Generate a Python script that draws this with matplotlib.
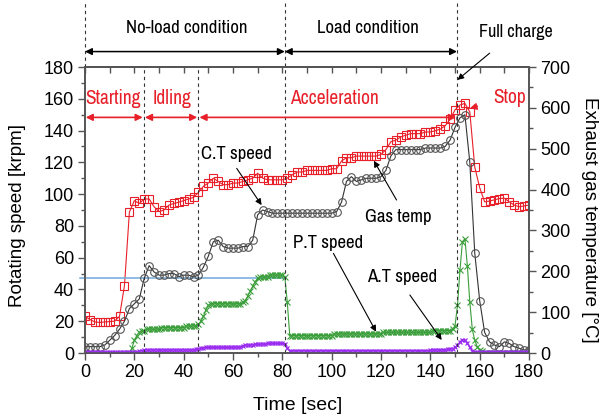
import matplotlib
matplotlib.use('Agg')
import matplotlib.pyplot as plt
import numpy as np
from matplotlib.ticker import MultipleLocator

plt.rcParams['font.family'] = ['Liberation Sans', 'DejaVu Sans']
NARROW = ['Archivo Narrow', 'Roboto Condensed', 'Liberation Sans', 'DejaVu Sans']

# gas temperature [degC] and C.T speed [krpm], sampled every 2 s
time_2s = np.arange(0, 181, 2)
gas_temp = [
    90, 82, 76, 75, 76, 77, 78, 90, 165, 345,
    373, 366, 377, 377, 358, 346, 350, 362, 366, 369,
    373, 377, 381, 393, 408, 416, 428, 420, 412, 412,
    416, 416, 420, 424, 428, 440, 428, 424, 424, 424,
    424, 428, 436, 443, 443, 447, 447, 447, 447, 447,
    451, 451, 470, 478, 478, 482, 482, 482, 482, 482,
    486, 498, 517, 521, 529, 533, 537, 537, 537, 541,
    541, 544, 548, 556, 572, 595, 607, 611, 590, 455,
    405, 370, 372, 375, 378, 379, 370, 362, 358, 360,
    362,
]
ct_speed = [
    4, 4, 4, 4, 5, 8, 11, 15, 20, 28,
    31, 34, 47, 55, 51, 49, 49, 50, 50, 48,
    49, 49, 48, 49, 54, 61, 70, 71, 67, 66,
    66, 66, 67, 67, 71, 87, 90, 89, 88, 88,
    88, 88, 88, 88, 88, 88, 88, 88, 88, 88,
    88, 89, 95, 108, 111, 108, 109, 110, 110, 110,
    111, 115, 124, 128, 128, 128, 128, 128, 128, 129,
    129, 129, 129, 130, 134, 142, 148, 150, 120, 63,
    33, 13, 7, 5, 4, 7, 6, 4, 3, 2,
    2,
]

# P.T speed [krpm], every 1 s from 18 s
time_pt = np.arange(18, 181, 1)
pt_speed = [
    0, 3, 8, 11, 13, 14, 14, 15, 15, 15,
    15, 15, 15, 16, 16, 16, 16, 16, 16, 16,
    16, 16, 16, 17, 17, 17, 17, 17, 18, 20,
    23, 27, 30, 31, 31, 31, 31, 31, 31, 31,
    31, 31, 31, 31, 31, 31, 32, 33, 36, 39,
    42, 45, 47, 48, 48, 48, 48, 49, 49, 49,
    49, 49, 49, 48, 32, 11, 11, 11, 11, 11,
    11, 11, 11, 11, 11, 11, 11, 11, 11, 11,
    11, 11, 11, 12, 12, 12, 12, 12, 12, 12,
    12, 12, 12, 12, 12, 12, 12, 12, 12, 12,
    12, 12, 12, 13, 13, 13, 13, 13, 13, 13,
    13, 13, 13, 13, 13, 13, 13, 13, 13, 13,
    13, 13, 13, 14, 14, 14, 14, 14, 14, 14,
    14, 15, 17, 30, 52, 70, 72, 55, 32, 15,
    8, 4, 2, 1, 0, 0, 0, 0, 0, 0,
    0, 0, 0, 0, 0, 0, 0, 0, 0, 0,
    0, 0, 0,
]

# A.T speed [krpm], every 1 s
time_at = np.arange(0, 181, 1)
at_speed = [
    0.5, 0.5, 0.5, 0.5, 0.5, 0.5, 0.5, 0.5, 0.5, 0.5,
    0.5, 0.5, 0.5, 0.5, 0.5, 0.5, 0.5, 0.5, 0.5, 0.5,
    0.5, 0.8, 1.2, 1.5, 2, 2, 2, 2, 2, 2,
    2, 2, 2, 2, 2, 2, 2, 2, 2, 2,
    2, 2, 2, 2, 2, 2.5, 2.8, 3, 3.3, 3.5,
    3.5, 3.5, 3.5, 3.5, 3.5, 3.5, 3.5, 3.5, 3.5, 3.5,
    3.5, 3.6, 3.8, 4, 4.5, 5, 5, 5, 5.2, 5.5,
    5.5, 5.5, 5.7, 5.8, 6, 6, 6, 6, 6, 6,
    6, 5.5, 3, 1.5, 1.5, 1.5, 1.5, 1.5, 1.5, 1.5,
    1.5, 1.5, 1.5, 1.5, 1.5, 1.5, 1.5, 1.5, 1.5, 1.5,
    1.5, 1.5, 1.5, 1.5, 1.5, 1.5, 1.5, 1.5, 1.5, 1.5,
    1.5, 1.5, 1.5, 1.5, 1.5, 1.5, 1.5, 1.5, 1.5, 1.5,
    1.5, 1.5, 1.5, 1.5, 1.5, 1.5, 1.5, 1.5, 1.5, 1.5,
    1.5, 1.5, 1.5, 1.5, 1.5, 1.5, 1.5, 1.5, 1.5, 1.5,
    1.8, 1.8, 2, 2, 2, 2, 2.2, 2.4, 2.6, 2.8,
    3.5, 5, 7, 8.5, 8, 6, 3.5, 1.5, 0.8, 0.5,
    0.5, 0.5, 0.5, 0.5, 0.5, 0.5, 0.5, 0.5, 0.5, 0.5,
    0.5, 0.5, 0.5, 0.5, 0.5, 0.5, 0.5, 0.5, 0.5, 0.5,
    0.5,
]

# phase boundaries [s] and reference level [krpm]
phase_edges = [0, 23.8, 46, 81, 150.8]
ref_level = 47

RED = '#e8202a'
GREEN = '#3a9e3a'
PURPLE = '#9a2cf0'
GRAY = '#555555'

fig = plt.figure(figsize=(6.08, 4.16), dpi=100)
ax = fig.add_axes([0.1398, 0.1514, 0.7303, 0.6875])
ax2 = ax.twinx()
ax.set_zorder(ax2.get_zorder() + 1)
ax.patch.set_visible(False)

ax2.plot(time_2s, gas_temp, color=RED, lw=0.8, marker='s', ms=5.5,
         mfc='none', mec=RED, mew=0.8)
ax.plot([-2, 81], [ref_level, ref_level], color='#6fa8dc', lw=1.1, clip_on=False)
ax.plot(time_2s, ct_speed, color='#333333', lw=0.8, marker='o', ms=5.5,
        mfc='none', mec=GRAY, mew=0.8)
ax.plot(time_pt, pt_speed, color=GREEN, lw=0.8, marker='x', ms=4, mew=0.8)
ax.plot(time_at, at_speed, color=PURPLE, lw=0.9, marker='x', ms=3.5, mew=0.9)

ax.set_xlim(0, 180)
ax.set_ylim(0, 180)
ax2.set_ylim(0, 700)

ax.xaxis.set_major_locator(MultipleLocator(20))
ax.xaxis.set_minor_locator(MultipleLocator(10))
ax.yaxis.set_major_locator(MultipleLocator(20))
ax.yaxis.set_minor_locator(MultipleLocator(10))
ax2.yaxis.set_major_locator(MultipleLocator(100))
ax2.yaxis.set_minor_locator(MultipleLocator(50))

for a in (ax, ax2):
    a.tick_params(which='major', direction='out', length=5, width=1,
                  color=GRAY, labelsize=13, pad=3)
    a.tick_params(which='minor', direction='out', length=3, width=1, color=GRAY)
    for s in a.spines.values():
        s.set_color(GRAY)
        s.set_linewidth(1.2)

top = ax.secondary_xaxis('top')
top.set_xticks(np.arange(0, 181, 10))
top.set_xticklabels([])
top.tick_params(direction='in', length=4, width=1, color=GRAY)
top.spines['top'].set_color(GRAY)
top.spines['top'].set_linewidth(1.2)

fig.text(0.49, 0.026, 'Time [sec]', ha='center', va='center', fontsize=14)
fig.text(0.028, 0.483, 'Rotating speed [krpm]', ha='center', va='center',
         rotation=90, fontsize=13.5)
fig.text(0.970, 0.471, 'Exhaust gas temperature [\u00b0C]', ha='center',
         va='center', rotation=270, fontsize=13.5)

# phase boundary lines
dash = dict(color='#333333', lw=0.8, ls=(0, (3, 3)), clip_on=False)
ax.axvline(phase_edges[0], ymin=1.0, ymax=1.225, **dash)
ax.axvline(phase_edges[1], ymin=0, ymax=1, **dash)
ax.axvline(phase_edges[2], ymin=0, ymax=1, **dash)
ax.axvline(phase_edges[3], ymin=0, ymax=1.225, **dash)
ax.axvline(phase_edges[4], ymin=0, ymax=1.225, **dash)

blend = ('data', 'axes fraction')
black_arrow = dict(arrowstyle='<|-|>', color='black', lw=1.1,
                   shrinkA=0, shrinkB=0, mutation_scale=10)
ax.annotate('', xy=(phase_edges[3], 1.054), xytext=(phase_edges[0], 1.054),
            xycoords=blend, textcoords=blend, arrowprops=black_arrow,
            annotation_clip=False)
ax.annotate('', xy=(phase_edges[4], 1.054), xytext=(phase_edges[3], 1.054),
            xycoords=blend, textcoords=blend, arrowprops=black_arrow,
            annotation_clip=False)
ax.text(41.4, 1.12, 'No-load condition', transform=ax.get_xaxis_transform(),
        ha='center', va='baseline', fontsize=13.5, family=NARROW)
ax.text(114.8, 1.12, 'Load condition', transform=ax.get_xaxis_transform(),
        ha='center', va='baseline', fontsize=13.5, family=NARROW)
ax.annotate('Full charge', xy=(151, 0.955), xytext=(174.5, 1.106),
            xycoords=blend, textcoords=blend, ha='center', va='baseline',
            fontsize=13, family=NARROW, annotation_clip=False,
            arrowprops=dict(arrowstyle='-|>', color='black', lw=0.8,
                            shrinkA=12, shrinkB=0, mutation_scale=9))

# red phase arrows
red_arrow = dict(arrowstyle='<|-|>', color=RED, lw=1.2,
                 shrinkA=0, shrinkB=0, mutation_scale=10)
spans = [(0.3, 23.4), (24.3, 45.5), (46.4, 150.4)]
for a0, a1 in spans:
    ax.annotate('', xy=(a1, 148.3), xytext=(a0, 148.3), arrowprops=red_arrow)
for label, xc in [('Starting', 11.5), ('Idling', 35.1), ('Acceleration', 101)]:
    ax.text(xc, 156.7, label, color=RED, ha='center', va='baseline',
            fontsize=14, family=NARROW)
ax.annotate('Stop', xy=(156, 154), xytext=(172.3, 157.5), color=RED,
            ha='center', va='baseline', fontsize=14, family=NARROW,
            arrowprops=dict(arrowstyle='-|>', color=RED, lw=1.0,
                            shrinkA=10, shrinkB=0, mutation_scale=10))

# series labels
note = dict(arrowstyle='-|>', color='black', lw=0.8, shrinkA=0, shrinkB=0,
            mutation_scale=9)
ax.text(61.5, 121.9, 'C.T speed', ha='center', va='baseline', fontsize=13.5,
        family=NARROW)
ax.annotate('', xy=(71.6, 93.1), xytext=(61.5, 116.2), arrowprops=note)
ax.text(127.1, 82.6, 'Gas temp', ha='center', va='baseline', fontsize=13.5,
        family=NARROW)
ax.annotate('', xy=(117.1, 121), xytext=(126.3, 96.3), arrowprops=note)
ax.text(98.6, 65.9, 'P.T speed', ha='center', va='baseline', fontsize=13.5,
        family=NARROW)
ax.annotate('', xy=(118, 13.4), xytext=(100.7, 62.7), arrowprops=note)
ax.text(128.7, 44.9, 'A.T speed', ha='center', va='baseline', fontsize=13.5,
        family=NARROW)
ax.annotate('', xy=(144.6, 8.2), xytext=(131.7, 36.5), arrowprops=note)

plt.savefig('out.png', dpi=100)
plt.close()
